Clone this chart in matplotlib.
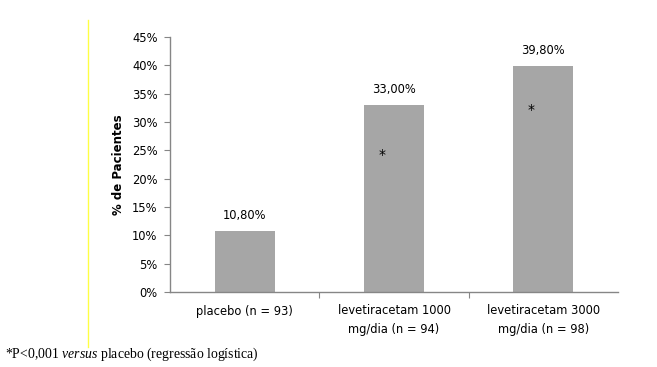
import matplotlib.pyplot as plt
from matplotlib.lines import Line2D

categories = ["placebo (n = 93)", "levetiracetam 1000\nmg/dia (n = 94)", "levetiracetam 3000\nmg/dia (n = 98)"]
values = [10.8, 33.0, 39.8]
value_labels = ["10,80%", "33,00%", "39,80%"]
significant = [False, True, True]
y_ticks = [0, 5, 10, 15, 20, 25, 30, 35, 40, 45]

plt.rcParams["mathtext.fontset"] = "custom"
plt.rcParams["mathtext.rm"] = "Liberation Serif"
plt.rcParams["mathtext.it"] = "Liberation Serif:italic"

W, H = 657, 367
fig = plt.figure(figsize=(W / 100, H / 100), dpi=100)
ax = fig.add_axes([170 / W, (H - 292) / H, (618 - 170) / W, (292 - 37) / H])

x = range(len(values))
ax.bar(x, values, width=0.4, color="#a6a6a6", zorder=2)
ax.set_xlim(-0.5, len(values) - 0.5)
ax.set_ylim(0, 45)

font = dict(family="DejaVu Sans", size=8.3, color="black")
ax.set_yticks(y_ticks)
ax.set_yticklabels([f"{t}%" for t in y_ticks], **font)
ax.set_xticks([0.5 + i for i in range(len(values) - 1)], minor=False)
ax.set_xticklabels([])
ax.set_xticks(list(x), minor=True)
ax.set_xticklabels(categories, minor=True, linespacing=1.6, **font)
ax.tick_params(axis="x", which="minor", length=0, pad=9)
ax.tick_params(axis="x", which="major", length=4, color="#868686")
ax.tick_params(axis="y", length=4, color="#868686", pad=5)

for side in ["top", "right"]:
    ax.spines[side].set_visible(False)
for side in ["left", "bottom"]:
    ax.spines[side].set_color("#868686")
    ax.spines[side].set_linewidth(1)

# asterisk sits inside the bar, a bit left of centre
star_drop = [0, 8.8, 7.7]
for i, (v, lab, sig) in enumerate(zip(values, value_labels, significant)):
    ax.text(i, v + 1.6, lab, ha="center", va="bottom", **font)
    if sig:
        ax.text(i - 0.08, v - star_drop[i], "*", ha="center", va="center",
                family="DejaVu Sans", size=10)

ax.set_ylabel("% de Pacientes", fontweight="bold", family="DejaVu Sans",
              size=8.5, labelpad=5)

# yellow margin line
fig.add_artist(Line2D([88 / W, 88 / W], [(H - 20) / H, (H - 347) / H],
                      color="#ffff44", lw=1.0))

fig.text(5 / W, (H - 354) / H,
         r"*P<0,001 $\it{versus}$ placebo (regressão logística)",
         family="Liberation Serif", size=9.9, va="center", color="black")

fig.savefig("out.png", dpi=100)
